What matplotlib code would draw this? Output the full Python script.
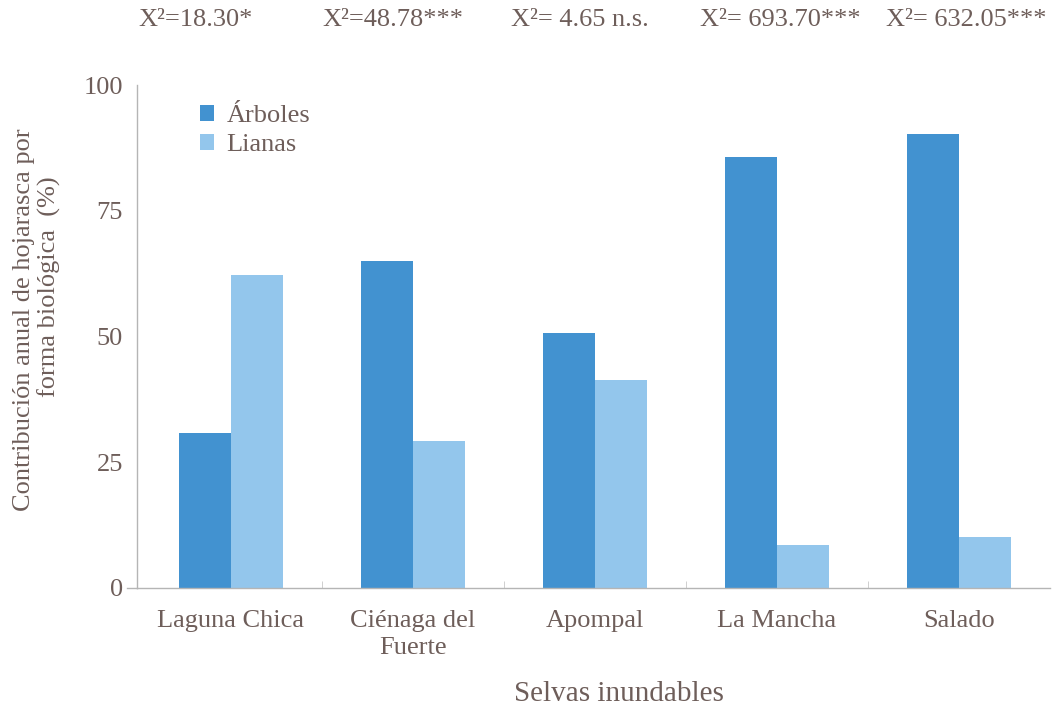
import numpy as np
import matplotlib
matplotlib.use('Agg')
import matplotlib.pyplot as plt

sitios = ['Laguna Chica', 'Ciénaga del\nFuerte', 'Apompal', 'La Mancha', 'Salado']
arboles = [30.8, 65.0, 50.7, 85.7, 90.3]
lianas = [62.2, 29.2, 41.4, 8.5, 10.1]
chi2 = ['X²=18.30*', 'X²=48.78***', 'X²= 4.65 n.s.', 'X²= 693.70***', 'X²= 632.05***']

plt.rcParams['font.family'] = ['Liberation Serif', 'DejaVu Serif']
txt = '#6e5e5a'
c_arb = '#4292d0'
c_lia = '#93c6ec'

fig = plt.figure(figsize=(10.53, 7.11), dpi=100)
ax = fig.add_axes([0.130, 0.173, 0.867, 0.707])

x = np.arange(len(sitios))
w = 0.286
ax.bar(x - w / 2, arboles, w, color=c_arb, label='Árboles')
ax.bar(x + w / 2, lianas, w, color=c_lia, label='Lianas')

ax.set_xlim(-0.515, 4.5)
ax.set_ylim(0, 100)
ax.set_yticks([0, 25, 50, 75, 100])
ax.set_xticks(x)
ax.set_xticklabels(sitios, fontsize=19, color=txt, linespacing=1.3)
ax.set_xticks(x[:-1] + 0.5, minor=True)
ax.tick_params(axis='x', which='major', length=0, pad=16)
ax.tick_params(axis='x', which='minor', length=5, color='#c8c8c8', direction='in')
ax.tick_params(axis='y', length=0, pad=10, labelsize=19, labelcolor=txt)
# bit of the base line sticking out left of the y axis
ax.axhline(0, xmin=-0.011, xmax=0, color='#b5b5b5', lw=1.0, clip_on=False)

for s in ['top', 'right']:
    ax.spines[s].set_visible(False)
for s in ['left', 'bottom']:
    ax.spines[s].set_color('#b5b5b5')
    ax.spines[s].set_linewidth(1.0)

ax.set_xlabel('Selvas inundables', fontsize=21, color=txt, labelpad=14)
ax.xaxis.set_label_coords(0.528, -0.185)

# two line y label, second line sits a bit higher than the first
fig.text(24 / 1053, 1 - 320 / 711, 'Contribución anual de hojarasca por',
         rotation=90, ha='center', va='center', fontsize=19, color=txt)
fig.text(49 / 1053, 1 - 287 / 711, 'forma biológica  (%)',
         rotation=90, ha='center', va='center', fontsize=19, color=txt)

chi_x = [-0.19, 0.89, 1.92, 3.02, 4.04]
for xi, t in zip(chi_x, chi2):
    ax.text(xi, 1.129, t, transform=ax.get_xaxis_transform(), ha='center',
            va='center', fontsize=19, color=txt)

leg = ax.legend(loc='upper left', bbox_to_anchor=(0.043, 1.008), frameon=False,
                fontsize=19, handlelength=0.55, handleheight=0.55,
                handletextpad=0.45, labelspacing=0.25)
for t in leg.get_texts():
    t.set_color(txt)

fig.savefig('out.png', dpi=100)
